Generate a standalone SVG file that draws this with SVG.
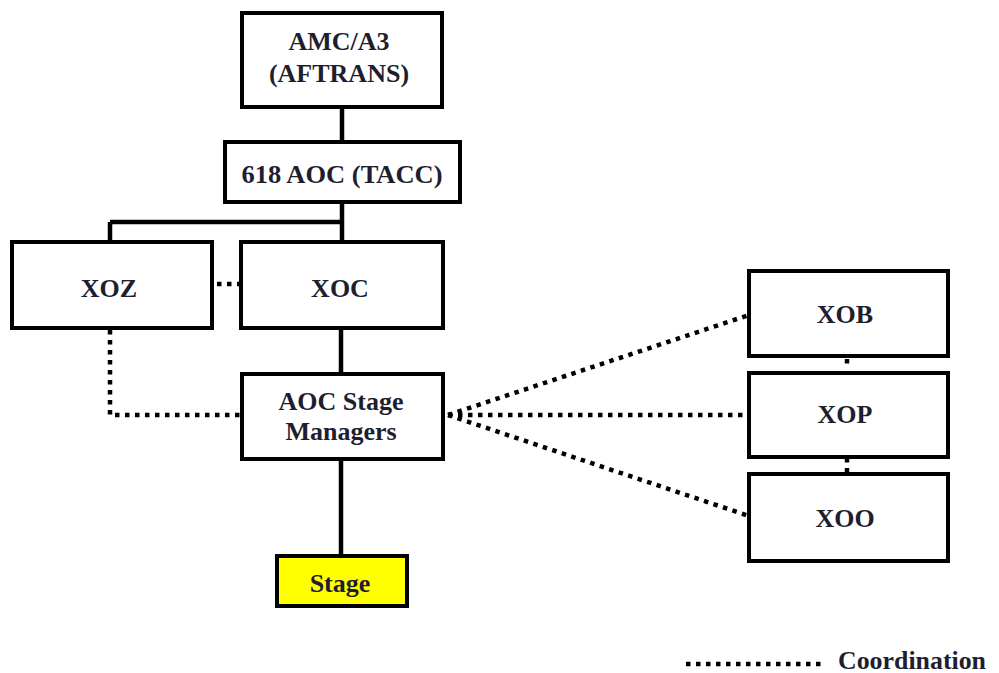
<svg xmlns="http://www.w3.org/2000/svg" width="999" height="673" viewBox="0 0 999 673">
<style>
.box{fill:#fff;stroke:#000;stroke-width:4}
.t{font-family:'Liberation Serif','Times New Roman',serif;font-weight:bold;font-size:26px;fill:#1e1e2e;text-anchor:middle}
.solid{stroke:#000;stroke-width:4.5;fill:none}
.dot{stroke:#000;stroke-width:4.5;fill:none;stroke-dasharray:4.5 5.5}
</style>
<rect width="999" height="673" fill="#fff"/>
<g id="connectors">
<path class="solid" d="M342 107V142M342 202V242M110 222H342M110 222V242M341 328V374M341 459V556"/>
<path class="dot" d="M110 330V415H242"/>
<path class="dot" d="M217 284H242"/>
<path class="dot" d="M448 415L749 315"/>
<path class="dot" d="M448 415H749"/>
<path class="dot" d="M448 415L749 516"/>
<path class="dot" d="M847 359V368"/>
<path class="dot" d="M847 458V474"/>
<path class="dot" d="M686 664H822"/>
</g>
<g id="amc"><rect class="box" x="242" y="13" width="200" height="94"/><text class="t" x="339" y="50">AMC/A3</text><text class="t" x="339" y="82">(AFTRANS)</text></g>
<g id="aoc618"><rect class="box" x="225" y="142" width="235" height="60"/><text class="t" x="342" y="183" textLength="201" lengthAdjust="spacingAndGlyphs">618 AOC (TACC)</text></g>
<g id="xoz"><rect class="box" x="12" y="242" width="200" height="86"/><text class="t" x="109" y="297">XOZ</text></g>
<g id="xoc"><rect class="box" x="241" y="242" width="202" height="86"/><text class="t" x="340" y="297">XOC</text></g>
<g id="stagemgr"><rect class="box" x="242" y="374" width="201" height="85"/><text class="t" x="341" y="410">AOC Stage</text><text class="t" x="341" y="440">Managers</text></g>
<g id="stage"><rect x="277" y="556" width="130" height="50" fill="#ffff00" stroke="#000" stroke-width="4"/><text class="t" x="340" y="592">Stage</text></g>
<g id="xob"><rect class="box" x="749" y="271" width="199" height="85"/><text class="t" x="845" y="323">XOB</text></g>
<g id="xop"><rect class="box" x="749" y="373" width="199" height="84"/><text class="t" x="845" y="423">XOP</text></g>
<g id="xoo"><rect class="box" x="749" y="474" width="199" height="87"/><text class="t" x="845" y="527">XOO</text></g>
<g id="legend"><text class="t" x="838" y="669" style="text-anchor:start;font-size:25px" textLength="148" lengthAdjust="spacingAndGlyphs">Coordination</text></g>
</svg>
